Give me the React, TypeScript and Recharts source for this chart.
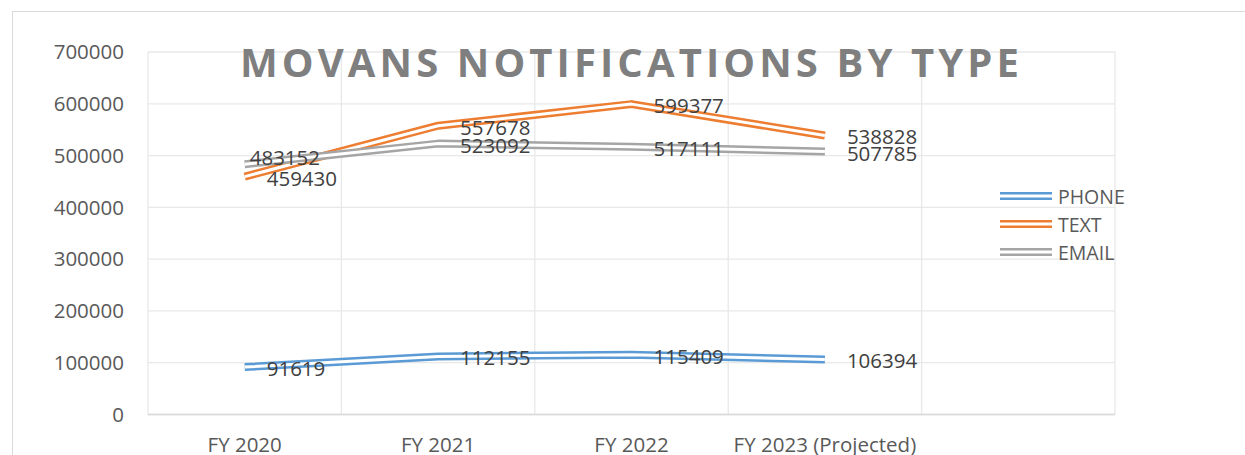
import { LineChart, Line, XAxis, YAxis, CartesianGrid, LabelList } from "recharts";

const categories = ["FY 2020", "FY 2021", "FY 2022", "FY 2023 (Projected)"];
const phone = [91619, 112155, 115409, 106394];
const text = [459430, 557678, 599377, 538828];
const email = [483152, 523092, 517111, 507785];
const yTicks = [0, 100000, 200000, 300000, 400000, 500000, 600000, 700000];

const series = [
  { key: "phone", name: "PHONE", color: "#5b9bd5" },
  { key: "text", name: "TEXT", color: "#ed7d31" },
  { key: "email", name: "EMAIL", color: "#a5a5a5" },
];

// one row per fiscal year, x is the category index
const rows = categories.map((c, i) => ({ x: i, cat: c, phone: phone[i], text: text[i], email: email[i] }));

const FONT = "'Open Sans', sans-serif";
const W = 1245;
const H = 455;
const SLOTS = 5; // excel left an empty fifth category on the axis

function makeLabel(seriesKey: string) {
  return (props: any) => {
    const { x, y, value, index } = props;
    let dx = 22;
    let dy = 1;
    if (seriesKey === "email" && index === 0) { dx = 5; dy = -7; }
    return (
      <text x={x + dx} y={y + dy} fill="#404040" fontSize={20.5} fontFamily={FONT} dominantBaseline="central">
        {value}
      </text>
    );
  };
}

function LegendBox() {
  return (
    <div style={{ position: "absolute", left: 1000, top: 182, fontFamily: FONT }}>
      {series.map((s) => (
        <div key={s.key} style={{ display: "flex", alignItems: "center", height: 28 }}>
          <svg width={52} height={10} style={{ marginRight: 6 }}>
            <line x1={0} x2={52} y1={5} y2={5} stroke={s.color} strokeWidth={8} />
            <line x1={0} x2={52} y1={5} y2={5} stroke="#fff" strokeWidth={3} />
          </svg>
          <span style={{ fontSize: 19.5, color: "#595959" }}>{s.name}</span>
        </div>
      ))}
    </div>
  );
}

export default function App() {
  return (
    <div style={{ position: "absolute", left: 0, top: 0, width: W, height: H, overflow: "hidden", background: "#fff" }}>
      <div style={{ position: "absolute", left: 12, top: 11, width: W, height: H, borderLeft: "1.5px solid #d9d9d9", borderTop: "1.5px solid #d9d9d9" }} />
      <LineChart width={W} height={H} data={rows} margin={{ top: 52, right: 130, bottom: 0, left: 88 }}>
        <CartesianGrid
          stroke="#e8e8e8"
          strokeWidth={1.3}
          verticalCoordinatesGenerator={({ offset }: any) =>
            Array.from({ length: SLOTS + 1 }, (_, k) => offset.left + (k * offset.width) / SLOTS)
          }
        />
        <XAxis
          dataKey="x"
          type="number"
          domain={[-0.5, SLOTS - 0.5]}
          ticks={[0, 1, 2, 3]}
          tickFormatter={(i: number) => categories[i]}
          height={40.5}
          tickLine={false}
          tickSize={0}
          tickMargin={23}
          axisLine={{ stroke: "#d9d9d9", strokeWidth: 1.5 }}
          tick={{ fontSize: 20.5, fill: "#595959", fontFamily: FONT }}
        />
        <YAxis
          domain={[0, 700000]}
          ticks={yTicks}
          width={60}
          tickLine={false}
          tickSize={0}
          tickMargin={24}
          axisLine={false}
          tick={{ fontSize: 20.5, fill: "#595959", fontFamily: FONT }}
        />
        {series.flatMap((s) => [
          <Line
            key={s.key + "-outer"}
            dataKey={s.key}
            name={s.name}
            stroke={s.color}
            strokeWidth={8}
            strokeLinejoin="round"
            dot={false}
            activeDot={false}
            isAnimationActive={false}
          />,
          <Line
            key={s.key + "-inner"}
            dataKey={s.key}
            stroke="#fff"
            strokeWidth={3}
            strokeLinejoin="round"
            dot={false}
            activeDot={false}
            isAnimationActive={false}
          >
            <LabelList dataKey={s.key} content={makeLabel(s.key)} />
          </Line>,
        ])}
      </LineChart>
      <LegendBox />
      <div
        style={{
          position: "absolute",
          left: 148,
          width: 967,
          top: 41.5,
          lineHeight: "40px",
          textAlign: "center",
          fontFamily: FONT,
          fontWeight: 700,
          fontSize: 40,
          letterSpacing: 4.1,
          color: "#7f7f7f",
          whiteSpace: "nowrap",
        }}
      >
        MOVANS NOTIFICATIONS BY TYPE
      </div>
    </div>
  );
}
